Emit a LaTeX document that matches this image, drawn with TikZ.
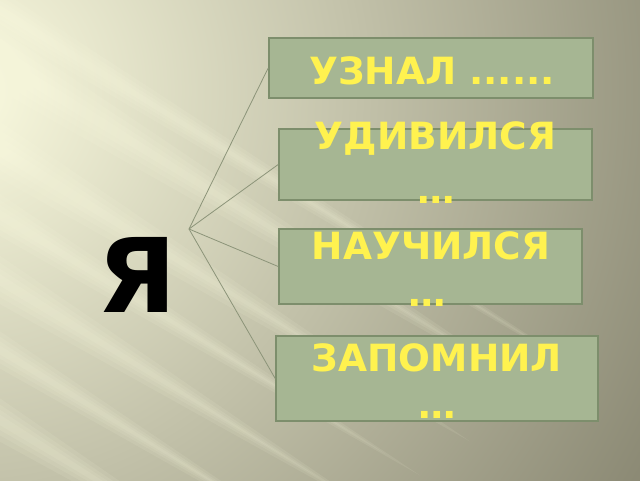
\documentclass[tikz,border=0pt]{standalone}
\usepackage{fontspec}
\setmainfont{DejaVu Sans}
\definecolor{boxfill}{HTML}{A6B693}
\definecolor{boxline}{HTML}{7D8E6C}
\definecolor{txtyel}{HTML}{FFF24F}
\definecolor{conn}{HTML}{8C9479}
\definecolor{bglight}{HTML}{FBFBE0}
\definecolor{bgdark}{HTML}{898772}
\definecolor{raycol}{HTML}{FFFFE4}
\tikzset{
  box/.style={draw=boxline, line width=1.6pt, fill=boxfill, inner sep=0pt},
  lbl/.style={text=txtyel, font=\bfseries\fontsize{37.5}{37.5}\selectfont, anchor=base, inner sep=0pt},
  big/.style={text=black, font=\bfseries\fontsize{103}{103}\selectfont, anchor=base, inner sep=0pt},
  conline/.style={draw=conn, line width=0.8pt},
  raylayer/.style={fill=raycol, fill opacity=0.09}
}
\begin{document}
\begin{tikzpicture}[x=1pt,y=-1pt]
\useasboundingbox (0,0) rectangle (640,480);
% background
\begin{scope}
\clip (0,0) rectangle (640,480);
\shade[inner color=bglight, outer color=bgdark] (-40,90) circle (800);
% soft light rays, wide at the left edge and tapering toward the lower right
\foreach \c/\w/\len in {60/34/560, 150/32/470, 215/24/420, 280/28/380, 350/22/330, 420/26/300, 500/20/260, 10/22/600, 570/16/220} {
  \foreach \k/\f in {1/1, 0.72/0.92, 0.48/0.84, 0.25/0.76} {
    \fill[raylayer] (-60,{\c-60*0.62-\k*\w}) -- (-60,{\c-60*0.62+\k*\w})
        -- ({\len*\f},{\c+\len*\f*0.62}) -- cycle;
  }
}
\end{scope}
% boxes
\node[box, minimum width=324pt, minimum height=60pt] (b1) at (431,68) {};
\node[box, minimum width=313pt, minimum height=71pt] (b2) at (435.5,164.5) {};
\node[box, minimum width=303pt, minimum height=75pt] (b3) at (430.5,266.5) {};
\node[box, minimum width=322pt, minimum height=85pt] (b4) at (437,378.5) {};
% texts
\node[lbl] (t1) at (432,84) {УЗНАЛ ......};
\node[lbl] (t2a) at (435.5,149) {УДИВИЛСЯ};
\node[lbl] (t2b) at (436,203) {…};
\node[lbl] (t3a) at (431,259) {НАУЧИЛСЯ};
\node[lbl] (t3b) at (427,306) {…};
\node[lbl] (t4a) at (437,371) {ЗАПОМНИЛ};
\node[lbl] (t4b) at (437,418) {…};
\node[big] (ya) at (137,312) {Я};
% connectors
\coordinate (apex) at (189,229);
\draw[conline] (apex) -- (b1.west);
\draw[conline] (apex) -- (b2.west);
\draw[conline] (apex) -- (b3.west);
\draw[conline] (apex) -- (b4.west);
\end{tikzpicture}
\end{document}
